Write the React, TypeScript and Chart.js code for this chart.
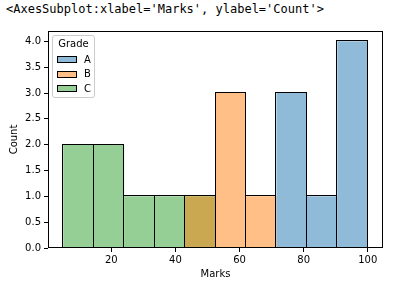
import React, { useEffect, useRef } from "react";
import { Chart, registerables } from "chart.js";

Chart.register(...registerables);

// ---- data ----
const binEdges = [5, 14.5, 24, 33.5, 43, 52.5, 62, 71.5, 81, 90.5, 100];
const grades = ["A", "B", "C"];
const countsA = [0, 0, 0, 0, 0, 0, 0, 3, 1, 4];
const countsB = [0, 0, 0, 0, 1, 3, 1, 0, 0, 0];
const countsC = [2, 2, 1, 1, 1, 0, 0, 0, 0, 0];
const xTicks = [20, 40, 60, 80, 100];
const yTicks = [0, 0.5, 1, 1.5, 2, 2.5, 3, 3.5, 4];
const xLimits = [0.25, 104.75];
const yLimits = [0, 4.2];

const fills = ["rgba(31,119,180,0.5)", "rgba(255,127,14,0.5)", "rgba(44,160,44,0.5)"];
const FONT = "'DejaVu Sans', sans-serif";

function toPoints(counts: number[]) {
  const pts: { x: number; y: number }[] = [];
  counts.forEach((c, i) => {
    if (c > 0) pts.push({ x: (binEdges[i] + binEdges[i + 1]) / 2, y: c });
  });
  return pts;
}

// crisp 1px black edges around each bar element (positions come from Chart.js)
const edgePlugin = {
  id: "edges",
  afterDatasetsDraw(chart: any) {
    const { ctx } = chart;
    const snap = (v: number) => Math.round(v) - 0.5;
    ctx.save();
    ctx.strokeStyle = "#000";
    ctx.lineWidth = 1;
    for (let d = chart.data.datasets.length - 1; d >= 0; d--) {
      const meta = chart.getDatasetMeta(d);
      meta.data.forEach((el: any) => {
        const p = el.getProps(["x", "y", "base", "width"], true);
        const l = snap(p.x - p.width / 2);
        const r = snap(p.x + p.width / 2);
        const t = snap(p.y);
        const b = snap(p.base);
        ctx.strokeRect(l, t, r - l, b - t);
      });
    }
    ctx.restore();
  },
};

const framePlugin = {
  id: "frame",
  afterDraw(chart: any) {
    const { ctx, chartArea } = chart;
    ctx.save();
    ctx.strokeStyle = "#000";
    ctx.lineWidth = 1;
    const l = Math.round(chartArea.left) + 0.5;
    const t = Math.round(chartArea.top) + 0.5;
    const r = Math.round(chartArea.right) - 0.5;
    const b = Math.round(chartArea.bottom) - 0.5;
    ctx.strokeRect(l, t, r - l, b - t);
    ctx.restore();
  },
};

export default function App() {
  const ref = useRef<HTMLCanvasElement | null>(null);
  useEffect(() => {
    if (!ref.current) return;
    const all = [countsA, countsB, countsC];
    const chart = new Chart(ref.current, {
      type: "bar",
      data: {
        datasets: grades.map((g, i) => ({
          label: g,
          data: toPoints(all[i]),
          backgroundColor: fills[i],
          borderColor: "#000",
          borderWidth: 0,
          inflateAmount: 0,
          grouped: false,
          barPercentage: 1,
          categoryPercentage: 1,
        })) as any,
      },
      options: {
        animation: false,
        responsive: false,
        layout: { padding: { left: 0, top: 31, right: 16, bottom: 0 } },
        plugins: { legend: { display: false }, tooltip: { enabled: false } },
        scales: {
          x: {
            type: "linear",
            offset: false,
            min: xLimits[0],
            max: xLimits[1],
            afterBuildTicks: (s: any) => {
              s.ticks = xTicks.map((v) => ({ value: v }));
            },
            afterFit: (s: any) => {
              s.height = 50;
            },
            grid: { offset: false, drawOnChartArea: false, drawTicks: true, tickLength: 4, color: "#000", tickColor: "#000" },
            border: { display: false },
            ticks: { color: "#000", font: { family: FONT, size: 10 }, padding: 2, maxRotation: 0, autoSkip: false },
            title: { display: true, text: "Marks", color: "#000", font: { family: FONT, size: 10 }, padding: { top: 0, bottom: 18 } },
          },
          y: {
            type: "linear",
            min: yLimits[0],
            max: yLimits[1],
            afterBuildTicks: (s: any) => {
              s.ticks = yTicks.map((v) => ({ value: v }));
            },
            afterFit: (s: any) => {
              s.width = 48;
            },
            grid: { drawOnChartArea: false, drawTicks: true, tickLength: 4, color: "#000", tickColor: "#000" },
            border: { display: false },
            ticks: {
              color: "#000",
              font: { family: FONT, size: 10 },
              padding: 3,
              autoSkip: false,
              callback: (v: any) => Number(v).toFixed(1),
            },
            title: { display: true, text: "Count", color: "#000", font: { family: FONT, size: 10 }, padding: { top: 8.5, bottom: 0 } },
          },
        },
      },
      plugins: [edgePlugin, framePlugin],
    });
    return () => chart.destroy();
  }, []);

  const rowCenters = [59.5, 74, 88.5];
  return (
    <div style={{ position: "fixed", left: 0, top: 0, width: 399, height: 298, background: "#fff", overflow: "hidden" }}>
      <div
        style={{
          position: "absolute",
          left: 6,
          top: 1,
          fontFamily: "'DejaVu Sans Mono', monospace",
          fontSize: 12,
          lineHeight: "16px",
          color: "#000",
          whiteSpace: "pre",
        }}
      >
        {"<AxesSubplot:xlabel='Marks', ylabel='Count'>"}
      </div>
      <canvas ref={ref} width={399} height={298} style={{ position: "absolute", left: 0, top: 0, width: 399, height: 298 }} />
      <div
        style={{
          position: "absolute",
          left: 52,
          top: 35,
          width: 43,
          height: 63,
          boxSizing: "border-box",
          border: "1px solid #cccccc",
          borderRadius: 3,
          background: "rgba(255,255,255,0.8)",
          fontFamily: FONT,
          fontSize: 10,
          color: "#000",
        }}
      >
        <div style={{ position: "absolute", left: 0, width: 41, top: 2.3, lineHeight: "12px", textAlign: "center" }}>Grade</div>
        {grades.map((g, i) => (
          <React.Fragment key={g}>
            <div
              style={{
                position: "absolute",
                left: 3.7,
                top: rowCenters[i] - 3.5 - 36,
                width: 20,
                height: 7,
                boxSizing: "border-box",
                border: "1px solid #000",
                background: fills[i],
              }}
            />
            <div style={{ position: "absolute", left: 31, top: rowCenters[i] - 6 - 36, lineHeight: "12px" }}>{g}</div>
          </React.Fragment>
        ))}
      </div>
    </div>
  );
}
